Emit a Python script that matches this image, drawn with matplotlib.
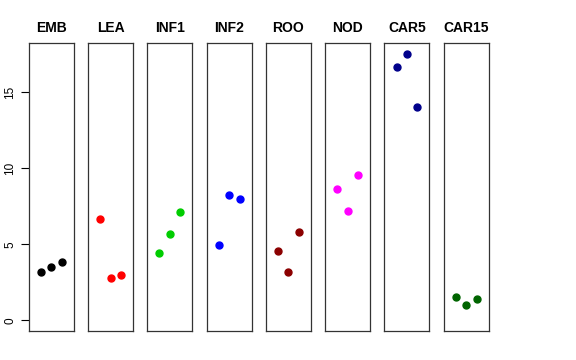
import matplotlib
matplotlib.use('Agg')
import matplotlib.pyplot as plt

# Data
groups = ['EMB', 'LEA', 'INF1', 'INF2', 'ROO', 'NOD', 'CAR5', 'CAR15']
colors = ['black', 'red', '#00CD00', 'blue', '#8B0000', 'magenta', '#00008B', '#006400']
values = [
    [3.18, 3.51, 3.82],
    [6.64, 2.80, 2.96],
    [4.41, 5.68, 7.11],
    [4.95, 8.24, 7.98],
    [4.56, 3.20, 5.83],
    [8.64, 7.21, 9.58],
    [16.66, 17.54, 14.01],
    [1.51, 1.01, 1.40],
]
yticks = [0, 5, 10, 15]

plt.rcParams['font.family'] = ['Liberation Sans', 'DejaVu Sans']

W, H = 576, 360
fig = plt.figure(figsize=(W / 100, H / 100), dpi=100)

ymax = max(max(v) for v in values)
ypad = 0.04 * ymax
left0, step, width = 28.7, 59.3, 45.0
top, bottom = 43.0, 331.0

for i, (name, col, vals) in enumerate(zip(groups, colors, values)):
    left = left0 + i * step
    ax = fig.add_axes([left / W, 1 - bottom / H, width / W, (bottom - top) / H])
    ax.plot([1, 2, 3], vals, 'o', color=col, markersize=5, linestyle='none')
    ax.set_xlim(0 - 0.16, 4 + 0.16)
    ax.set_ylim(0 - ypad, ymax + ypad)
    ax.set_xticks([])
    ax.set_title(name, fontsize=10, fontweight='bold', pad=8)
    for s in ax.spines.values():
        s.set_linewidth(0.9)
        s.set_color('#333333')
    if i == 0:
        ax.set_yticks(yticks)
        ax.tick_params(axis='y', length=6, width=0.8, labelsize=8.5, pad=3)
        for lab in ax.get_yticklabels():
            lab.set_rotation(90)
            lab.set_va('center')
    else:
        ax.set_yticks([])

fig.savefig('out.png', dpi=100)
